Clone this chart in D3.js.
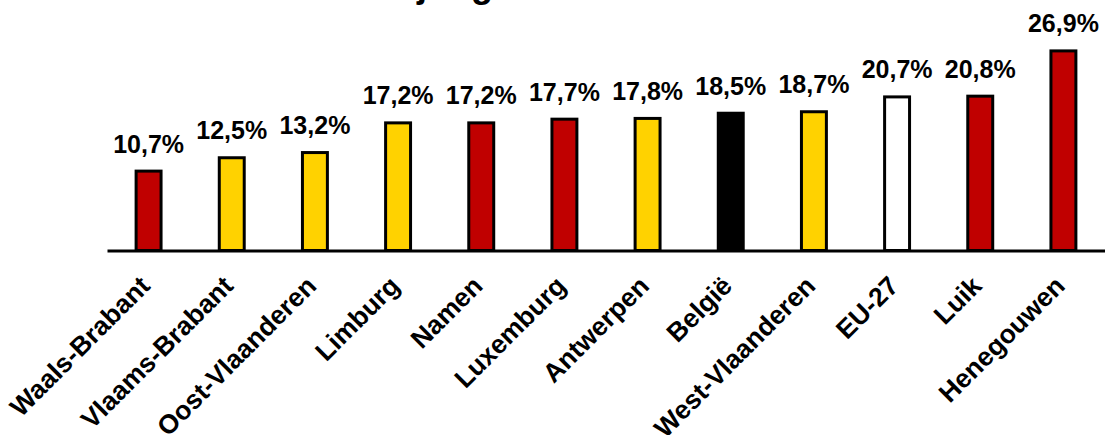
<!DOCTYPE html>
<html><head><meta charset="utf-8">
<script src="https://cdn.jsdelivr.net/npm/d3@7"></script>
<style>body{margin:0;background:#fff}svg{display:block}</style>
</head><body>
<script>
const categories = ["Waals-Brabant","Vlaams-Brabant","Oost-Vlaanderen","Limburg","Namen","Luxemburg","Antwerpen","België","West-Vlaanderen","EU-27","Luik","Henegouwen"];
const values = [10.7,12.5,13.2,17.2,17.2,17.7,17.8,18.5,18.7,20.7,20.8,26.9];
const valueLabels = ["10,7%","12,5%","13,2%","17,2%","17,2%","17,7%","17,8%","18,5%","18,7%","20,7%","20,8%","26,9%"];
const groups = ["W","V","V","V","W","W","V","BE","V","EU","W","W"];
const titleLines = ["Armoederisico bij", "jongeren in armoede"];

const W = 1105, H = 435;
const svg = d3.select("body").append("svg").attr("width", W).attr("height", H);
const color = d3.scaleOrdinal().domain(["W","V","BE","EU"]).range(["#C00000","#FFD200","#000000","#FFFFFF"]);

const x = d3.scaleBand().domain(categories).range([107, 1105]).paddingInner(0.7).paddingOuter(0.35);
const y = d3.scaleLinear().domain([0, 30]).range([250.5, 27.9]);

svg.append("text").attr("x", 417).attr("y", -3).attr("text-anchor","start")
  .attr("font-family","Liberation Sans, Arial, sans-serif").attr("font-weight","bold").attr("font-size",36)
  .text(titleLines[1]);
svg.append("text").attr("x", 552).attr("y", -45).attr("text-anchor","middle")
  .attr("font-family","Liberation Sans, Arial, sans-serif").attr("font-weight","bold").attr("font-size",36)
  .text(titleLines[0]);

svg.selectAll("rect.bar").data(values).join("rect").attr("class","bar")
  .attr("x",(d,i)=>x(categories[i])).attr("width",x.bandwidth())
  .attr("y",d=>y(d)).attr("height",d=>y(0)-y(d))
  .attr("fill",(d,i)=>color(groups[i])).attr("stroke","#000").attr("stroke-width",3);

svg.selectAll("text.val").data(values).join("text").attr("class","val")
  .attr("x",(d,i)=>x(categories[i])+x.bandwidth()/2).attr("y",d=>y(d)-18.5)
  .attr("text-anchor","middle").attr("font-family","Liberation Sans, Arial, sans-serif")
  .attr("font-weight","bold").attr("font-size",25).text((d,i)=>valueLabels[i]);

const axis = d3.axisBottom(x).tickSize(0).tickPadding(0);
const g = svg.append("g").attr("transform",`translate(0,${y(0)})`).call(axis);
g.select(".domain").attr("stroke","#000").attr("stroke-width",3);
g.selectAll(".tick text").attr("font-family","Liberation Sans, Arial, sans-serif")
  .attr("font-weight","bold").attr("font-size",26.5).attr("fill","#000")
  .attr("text-anchor","end").attr("dy",null).attr("y",0)
  .attr("transform","translate(3,37) rotate(-45)");
</script>
</body></html>
